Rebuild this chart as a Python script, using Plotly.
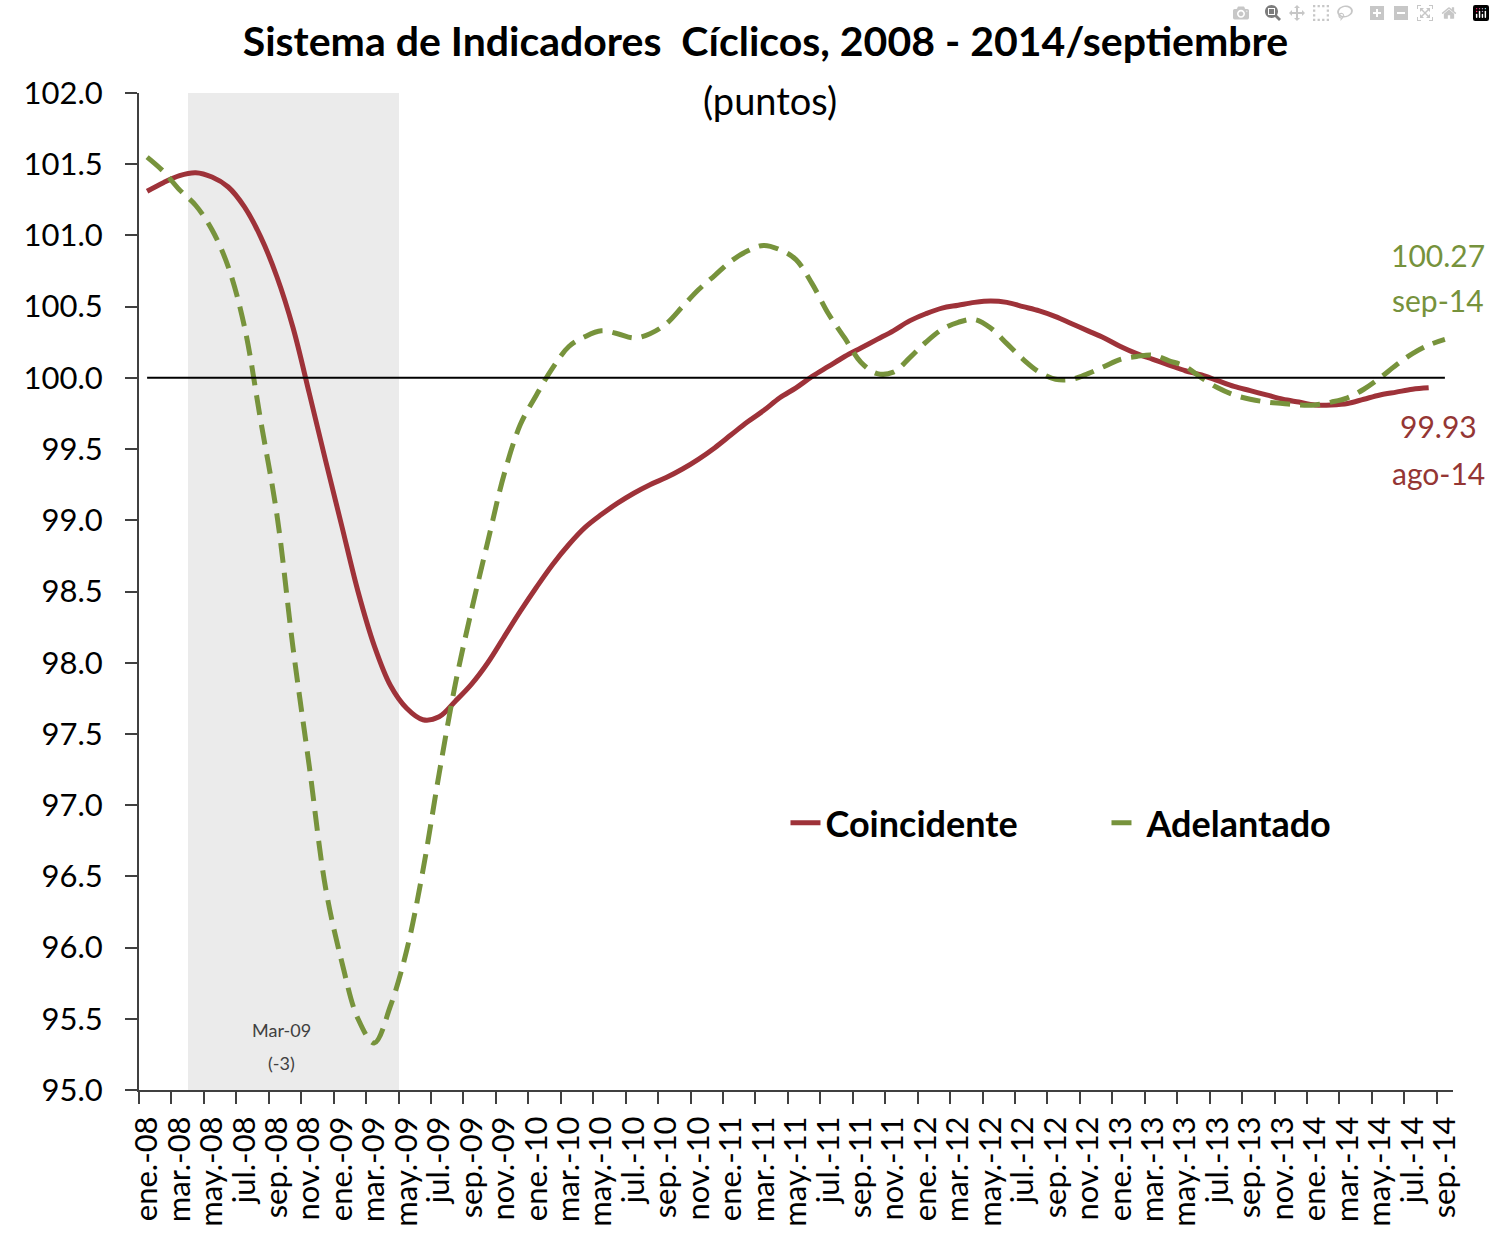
import plotly.graph_objects as go

# ---------------- data ----------------
meses = ["ene.", "feb.", "mar.", "abr.", "may.", "jun.", "jul.", "ago.", "sep.", "oct.", "nov.", "dic."]
anios = ["08", "09", "10", "11", "12", "13", "14"]
periodos = [f"{m}-{a}" for a in anios for m in meses][:81]   # ene.-08 ... sep.-14

coincidente = [
    101.31, 101.37, 101.42, 101.44, 101.41, 101.34, 101.20, 100.99, 100.71, 100.35,
    99.89, 99.42, 98.96, 98.50, 98.12, 97.84, 97.68, 97.60, 97.62, 97.73,
    97.85, 98.00, 98.18, 98.36, 98.53, 98.69, 98.83, 98.95, 99.04, 99.12,
    99.19, 99.25, 99.30, 99.36, 99.43, 99.51, 99.60, 99.69, 99.77, 99.86,
    99.93, 100.01, 100.08, 100.15, 100.21, 100.27, 100.33, 100.40, 100.45, 100.49,
    100.51, 100.53, 100.54, 100.53, 100.50, 100.47, 100.43, 100.38, 100.33, 100.28,
    100.22, 100.17, 100.13, 100.09, 100.05, 100.02, 99.98, 99.94, 99.91, 99.88,
    99.85, 99.83, 99.81, 99.81, 99.82, 99.85, 99.88, 99.90, 99.92, 99.93,
]

adelantado = [
    101.55, 101.45, 101.32, 101.21, 101.04, 100.78, 100.36, 99.70, 99.04, 98.10,
    97.27, 96.42, 95.90, 95.50, 95.33, 95.59, 95.98, 96.54, 97.22, 97.85,
    98.37, 98.85, 99.32, 99.67, 99.88, 100.07, 100.22, 100.29, 100.33, 100.31,
    100.28, 100.31, 100.38, 100.50, 100.62, 100.72, 100.82, 100.89, 100.93, 100.90,
    100.83, 100.66, 100.45, 100.28, 100.11, 100.03, 100.04, 100.14, 100.25, 100.34,
    100.39, 100.41, 100.35, 100.24, 100.13, 100.04, 99.99, 99.99, 100.03, 100.08,
    100.13, 100.15, 100.16, 100.12, 100.08, 100.00, 99.93, 99.88, 99.85, 99.83,
    99.82, 99.81, 99.81, 99.83, 99.86, 99.92, 100.00, 100.09, 100.17, 100.23,
    100.27,
]

recesion_inicio = "abr.-08"
recesion_fin = "abr.-09"
recesion_tope = 102.0
nivel_referencia = 100.0
nota_recesion = ["Mar-09", "(-3)"]

# ---------------- derived ----------------
idx = list(range(len(periodos)))
i0, i1 = periodos.index(recesion_inicio), periodos.index(recesion_fin)
rec_x = idx[i0:i1 + 1]
rec_y = [recesion_tope] * len(rec_x)

RED = "#9E3239"
GREEN = "#77933C"
FONT = "Lato"

fig = go.Figure()

fig.add_trace(go.Bar(
    x=rec_x, y=rec_y, width=1.0, marker=dict(color="#EBEBEB", line=dict(width=0)),
    showlegend=False, hoverinfo="skip",
))

fig.add_shape(type="line", xref="x", yref="y",
              x0=idx[0], x1=idx[-1], y0=nivel_referencia, y1=nivel_referencia,
              line=dict(color="black", width=2), layer="above")

fig.add_trace(go.Scatter(
    x=idx[:len(coincidente)], y=coincidente, mode="lines", name="Coincidente",
    line=dict(color=RED, width=5, shape="spline", smoothing=1.0),
))
fig.add_trace(go.Scatter(
    x=idx[:len(adelantado)], y=adelantado, mode="lines", name="Adelantado",
    line=dict(color=GREEN, width=5, dash="20px,10px", shape="spline", smoothing=1.0),
))

# end-value labels
n_c = len(coincidente) - 1
n_a = len(adelantado) - 1
lab_font_g = dict(family=FONT, size=30, color="#76923C")
lab_font_r = dict(family=FONT, size=30, color="#943634")
fig.add_annotation(x=79.6, y=100.86, xref="x", yref="y", text=f"{adelantado[-1]:.2f}",
                   showarrow=False, font=lab_font_g)
fig.add_annotation(x=79.6, y=100.55, xref="x", yref="y",
                   text=periodos[n_a].replace(".", ""), showarrow=False, font=lab_font_g)
fig.add_annotation(x=79.6, y=99.66, xref="x", yref="y", text=f"{coincidente[-1]:.2f}",
                   showarrow=False, font=lab_font_r)
fig.add_annotation(x=79.6, y=99.33, xref="x", yref="y",
                   text=periodos[n_c].replace(".", ""), showarrow=False, font=lab_font_r)

# recession note
fig.add_annotation(x=8.3, y=95.42, xref="x", yref="y", text=nota_recesion[0],
                   showarrow=False, font=dict(family=FONT, size=18, color="#404040"))
fig.add_annotation(x=8.3, y=95.19, xref="x", yref="y", text=nota_recesion[1],
                   showarrow=False, font=dict(family=FONT, size=18, color="#404040"))

# subtitle
fig.add_annotation(x=0.48, y=0.993, xref="paper", yref="paper", text="(puntos)",
                   showarrow=False, font=dict(family=FONT, size=38, color="black"),
                   yanchor="middle")

tick_x = idx[::2]
tick_t = periodos[::2]
bounds = [i - 0.5 for i in idx[::2]]

fig.update_layout(
    width=1495, height=1237, autosize=False,
    margin=dict(l=139, r=42, t=93, b=147, pad=0),
    paper_bgcolor="white", plot_bgcolor="white",
    bargap=0,
    title=dict(text="<b>Sistema de Indicadores  Cíclicos, 2008 - 2014/septiembre</b>",
               x=0.512, xanchor="center", xref="container",
               y=1 - 42 / 1237, yanchor="middle", yref="container",
               font=dict(family=FONT, size=41, color="black")),
    font=dict(family=FONT, color="black"),
    showlegend=True,
    legend=dict(orientation="h", x=0.492, xanchor="left", y=0.268, yanchor="middle",
                font=dict(family=FONT, size=36, color="black", weight="bold"),
                bgcolor="rgba(0,0,0,0)", entrywidth=276, entrywidthmode="pixels",
                itemwidth=30, traceorder="normal"),
    xaxis=dict(
        range=[-0.5, 80.5], tickmode="array", tickvals=tick_x, ticktext=tick_t,
        tickangle=-90, ticks="outside", ticklen=12, tickcolor="rgba(0,0,0,0)",
        tickfont=dict(family=FONT, size=31, color="black"), automargin=False,
        showline=True, linecolor="#404040", linewidth=2, showgrid=False, zeroline=False,
        minor=dict(tickmode="array", tickvals=bounds, ticks="outside", ticklen=12,
                   tickcolor="#404040", tickwidth=1.5, showgrid=False),
    ),
    yaxis=dict(
        range=[95, 102], tickmode="linear", tick0=95, dtick=0.5, tickformat=".1f",
        ticks="outside", ticklen=12, tickcolor="#404040", tickwidth=1.5,
        tickfont=dict(family=FONT, size=31, color="black"), automargin=False,
        ticklabelstandoff=16,
        showline=True, linecolor="#404040", linewidth=2, showgrid=False, zeroline=False,
    ),
)

fig.write_html("out.html",
               post_script="document.body.style.margin='0';document.body.style.overflow='hidden';")
